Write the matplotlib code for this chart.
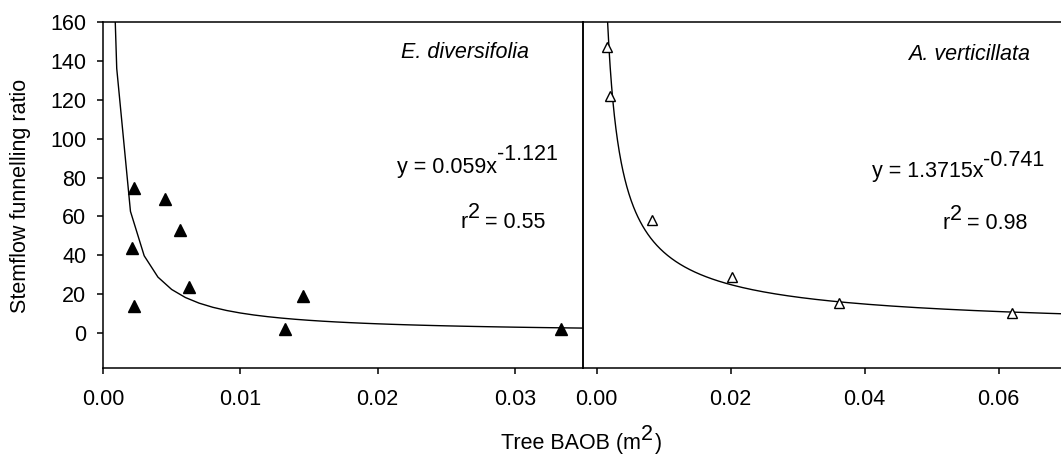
import numpy as np
import matplotlib
matplotlib.use('Agg')
from matplotlib import pyplot as plt

plt.rcParams['font.family'] = ['Liberation Sans', 'DejaVu Sans']

# E. diversifolia observations (BAOB m2, funnelling ratio)
ed_baob = [0.00228, 0.00452, 0.00561, 0.00211, 0.00624, 0.00223, 0.01326, 0.01459, 0.03336]
ed_ratio = [74.4, 68.9, 53.0, 43.5, 23.8, 13.9, 2.1, 18.9, 2.1]
# A. verticillata observations
av_baob = [0.00154, 0.00205, 0.0082, 0.0202, 0.0361, 0.062]
av_ratio = [147.3, 122.0, 58.1, 29.0, 15.6, 10.1]

# power trendlines as printed on the chart: y = a * x^b
ed_a, ed_b = 0.059, -1.121
av_a, av_b = 1.3715, -0.741

ed_xticks = [0.00, 0.01, 0.02, 0.03]
av_xticks = [0.00, 0.02, 0.04, 0.06]
yticks = [0, 20, 40, 60, 80, 100, 120, 140, 160]

W, H = 1061, 455
fs = 15.5


def at(px, py):
    # pixel position in the picture -> figure fraction
    return px / W, 1 - py / H


fig = plt.figure(figsize=(W / 100, H / 100), dpi=100)
fig.patch.set_facecolor('white')

ax1 = fig.add_axes([103 / W, 1 - 368 / H, 480 / W, 346 / H])
ax2 = fig.add_axes([583 / W, 1 - 368 / H, 478 / W, 346 / H])
ax2.patch.set_visible(False)

# trendlines (Excel-style polyline on the left, smooth on the right)
ed_fit_x = np.concatenate([[0.0007], np.arange(0.001, 0.0355, 0.001)])
ax1.plot(ed_fit_x, ed_a * ed_fit_x ** ed_b, color='black', linewidth=1.0, zorder=2)
av_fit_x = np.geomspace(0.0012, 0.0700, 300)
ax2.plot(av_fit_x, av_a * av_fit_x ** av_b, color='black', linewidth=1.0, zorder=2)

ax1.plot(ed_baob, ed_ratio, linestyle='none', marker='^', markersize=8,
         color='black', zorder=3, clip_on=False)
ax2.plot(av_baob, av_ratio, linestyle='none', marker='^', markersize=6.5,
         markerfacecolor='white', markeredgecolor='black', markeredgewidth=1.0,
         zorder=3, clip_on=False)

ax1.set_xlim(0, 0.03496)
ax2.set_xlim(-0.00205, 0.0693)
for ax in (ax1, ax2):
    ax.set_ylim(-18, 160)
    for s in ax.spines.values():
        s.set_linewidth(1.1)
        s.set_color('black')
    ax.tick_params(axis='x', direction='out', length=4, width=1.1,
                   pad=11, labelsize=fs, top=False)

ax1.set_xticks(ed_xticks)
ax1.set_xticklabels(['%.2f' % v for v in ed_xticks])
ax2.set_xticks(av_xticks)
ax2.set_xticklabels(['%.2f' % v for v in av_xticks])

ax1.set_yticks(yticks)
ax1.tick_params(axis='y', direction='out', length=4, width=1.1, pad=8,
                labelsize=fs, right=False)
ax2.tick_params(axis='y', left=False, labelleft=False, right=False)
ax2.spines['right'].set_visible(False)

# axis titles
fig.text(*at(21, 196), 'Stemflow funnelling ratio', rotation=90,
         ha='center', va='center', fontsize=fs)
fig.text(*at(641, 443), 'Tree BAOB (m', ha='right', va='center', fontsize=fs)
fig.text(*at(641, 435), '2', ha='left', va='center', fontsize=fs)
fig.text(*at(655, 443), ')', ha='left', va='center', fontsize=fs)

# panel annotations
fig.text(*at(529, 53), 'E. diversifolia', style='italic', ha='right', va='center', fontsize=fs)
fig.text(*at(497, 167), 'y = 0.059x', ha='right', va='center', fontsize=fs)
fig.text(*at(497, 155), '-1.121', ha='left', va='center', fontsize=fs)
fig.text(*at(468, 222), 'r', ha='right', va='center', fontsize=fs)
fig.text(*at(468, 213), '2', ha='left', va='center', fontsize=fs)
fig.text(*at(485, 222), '= 0.55', ha='left', va='center', fontsize=fs)

fig.text(*at(1030, 55), 'A. verticillata', style='italic', ha='right', va='center', fontsize=fs)
fig.text(*at(983, 172), 'y = 1.3715x', ha='right', va='center', fontsize=fs)
fig.text(*at(983, 160), '-0.741', ha='left', va='center', fontsize=fs)
fig.text(*at(950, 223), 'r', ha='right', va='center', fontsize=fs)
fig.text(*at(950, 215), '2', ha='left', va='center', fontsize=fs)
fig.text(*at(967, 223), '= 0.98', ha='left', va='center', fontsize=fs)

fig.savefig('out.png', dpi=100, facecolor='white')
